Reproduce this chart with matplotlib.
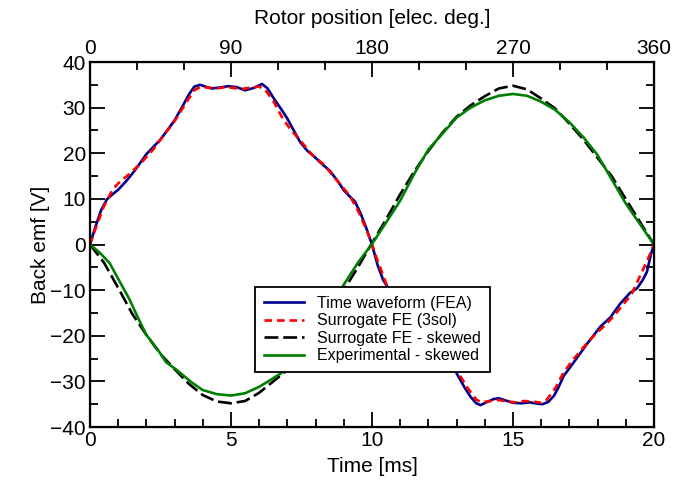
import matplotlib
matplotlib.use("Agg")
import matplotlib.pyplot as plt
from matplotlib.ticker import MultipleLocator

plt.rcParams['font.family'] = ['Liberation Sans', 'DejaVu Sans']
plt.rcParams['lines.scale_dashes'] = False

# ---- data ----
t_fea = [0.0, 0.2, 0.4, 0.6, 0.8, 1.0, 1.3, 1.6, 2.0, 2.5, 3.0, 3.3, 3.5, 3.7, 3.9,
         4.1, 4.3, 4.6, 4.9, 5.2, 5.5, 5.8, 6.1, 6.3, 6.5, 6.8, 7.0, 7.2, 7.45, 7.7, 7.95,
         8.2, 8.5, 8.8, 9.0, 9.2, 9.4, 9.6, 9.8, 10.0,
         10.2, 10.4, 10.6, 10.8, 11.0, 11.3, 11.6, 12.0, 12.5, 13.0, 13.3, 13.5, 13.7,
         13.85, 14.05, 14.3, 14.5, 14.7, 15.0, 15.3, 15.6, 15.9, 16.05, 16.25, 16.45,
         16.6, 16.8, 17.1, 17.6, 18.1, 18.45, 18.8, 19.15, 19.4, 19.6, 19.75, 19.9, 20.0]
v_fea = [0.0, 4.0, 7.6, 9.9, 11.0, 12.0, 14.0, 16.3, 19.8, 23.0, 27.2, 30.5, 32.8, 34.6, 35.0,
         34.6, 34.2, 34.4, 34.7, 34.5, 33.8, 34.3, 35.2, 34.2, 32.2, 29.5, 27.6, 25.3, 22.5, 20.6, 19.3,
         17.8, 16.2, 13.8, 11.9, 10.6, 9.4, 6.8, 3.6, 0.0,
         -4.5, -7.8, -9.8, -11.0, -12.0, -14.0, -16.3, -19.8, -23.5, -28.2, -31.5, -33.4, -34.8,
         -35.2, -34.6, -33.9, -33.7, -34.1, -34.7, -34.8, -34.6, -34.9, -35.0, -34.5, -33.2,
         -31.5, -28.8, -26.3, -22.0, -18.0, -16.0, -13.0, -10.6, -9.6, -7.8, -6.0, -2.0, 0.0]

t_sur = [0.0, 0.2, 0.5, 0.8, 1.0, 1.4, 1.8, 2.2, 2.6, 3.0, 3.4, 3.7, 3.9, 4.2, 4.5, 4.8,
         5.1, 5.4, 5.7, 6.0, 6.2, 6.5, 6.8, 7.1, 7.5, 7.9, 8.3, 8.6, 8.9, 9.2, 9.5, 9.8, 10.0,
         10.2, 10.5, 10.8, 11.0, 11.4, 11.8, 12.2, 12.6, 13.0, 13.4, 13.7, 13.9, 14.2, 14.5,
         14.8, 15.1, 15.4, 15.7, 16.0, 16.2, 16.5, 16.8, 17.1, 17.5, 17.9, 18.3, 18.6, 18.9,
         19.2, 19.5, 19.8, 20.0]
v_sur = [0.0, 3.5, 8.5, 12.0, 13.4, 15.5, 17.8, 20.5, 23.8, 27.0, 31.0, 33.8, 34.5, 34.4, 34.2, 34.5,
         34.3, 34.1, 34.4, 34.6, 34.0, 31.5, 28.0, 25.3, 22.5, 19.5, 17.5, 15.2, 13.0, 10.8, 7.5, 3.3, 0.0,
         -3.5, -8.5, -12.0, -13.4, -15.5, -17.8, -20.5, -23.8, -27.5, -31.5, -34.0, -34.6, -34.3, -34.1,
         -34.4, -34.6, -34.3, -34.4, -34.7, -34.0, -31.5, -28.0, -25.5, -22.5, -19.8, -17.5, -15.5, -13.2,
         -11.0, -7.0, -3.0, 0.0]

t_skew = [0.0, 0.5, 1.0, 1.5, 2.0, 2.5, 3.0, 3.5, 4.0, 4.5, 5.0, 5.5, 6.0, 6.5, 7.0, 7.5,
          8.0, 8.5, 9.0, 9.5, 10.0, 10.5, 11.0, 11.5, 12.0, 12.5, 13.0, 13.5, 14.0, 14.5,
          15.0, 15.5, 16.0, 16.5, 17.0, 17.5, 18.0, 18.5, 19.0, 19.5, 20.0]
v_skew = [0.0, -4.0, -9.5, -15.2, -19.8, -24.0, -27.3, -30.5, -33.0, -34.4, -34.8, -34.3, -32.5,
          -30.0, -27.5, -24.0, -20.0, -15.0, -10.0, -5.0, 0.3, 5.5, 11.0, 16.0, 20.5, 24.5, 28.0,
          30.5, 32.5, 34.2, 34.8, 34.0, 32.0, 29.8, 26.5, 23.0, 19.0, 15.0, 10.0, 5.0, 0.0]

t_exp = [0.0, 0.35, 0.7, 1.0, 1.4, 1.7, 2.0, 2.4, 2.7, 3.1, 3.6, 4.0, 4.5, 5.0, 5.5, 6.0,
         6.5, 7.0, 7.5, 8.0, 8.5, 9.0, 9.5, 10.0, 10.5, 11.0, 11.5, 12.0, 12.5, 13.0, 13.5,
         14.0, 14.5, 15.0, 15.5, 16.0, 16.5, 17.0, 17.5, 18.0, 18.5, 19.0, 19.5, 20.0]
v_exp = [0.0, -1.8, -4.1, -7.5, -12.0, -16.0, -19.8, -23.0, -25.8, -27.6, -30.2, -31.9, -32.8,
         -33.1, -32.6, -31.2, -29.3, -27.3, -23.5, -19.5, -14.0, -8.8, -4.0, 0.1, 4.8, 9.6, 15.5,
         20.8, 24.3, 27.8, 30.0, 31.6, 32.6, 33.0, 32.6, 31.3, 29.5, 26.8, 23.5, 19.6, 14.3, 9.0,
         4.5, 0.0]

labels = ['Time waveform (FEA)', 'Surrogate FE (3sol)', 'Surrogate FE - skewed',
          'Experimental - skewed']
x_ticks = [0, 5, 10, 15, 20]
y_ticks = [-40, -30, -20, -10, 0, 10, 20, 30, 40]
top_ticks = [0, 90, 180, 270, 360]

fig = plt.figure(figsize=(6.92, 4.91), dpi=100)
ax = fig.add_axes([0.130, 0.1303, 0.815, 0.7434])

lw = 1.9
ax.plot(t_fea, v_fea, color='#00008b', lw=lw, label=labels[0])
ax.plot(t_sur, v_sur, color='#ff0000', lw=lw, dashes=(5.5, 3.5), label=labels[1])
ax.plot(t_skew, v_skew, color='black', lw=lw, dashes=(10, 3.5), label=labels[2])
ax.plot(t_exp, v_exp, color='#008000', lw=lw, label=labels[3])

fs = 15
ax.set_xlim(0, 20)
ax.set_ylim(-40, 40)
ax.set_xticks(x_ticks)
ax.set_yticks(y_ticks)
ax.xaxis.set_minor_locator(MultipleLocator(1))
ax.yaxis.set_minor_locator(MultipleLocator(5))
ax.tick_params(which='both', direction='in', width=1.3, labelsize=fs, pad=3)
ax.tick_params(which='major', length=10.5)
ax.tick_params(which='minor', length=6)
ax.tick_params(axis='y', which='both', right=True)
for s in ax.spines.values():
    s.set_linewidth(1.6)

ax.set_xlabel('Time [ms]', fontsize=fs, labelpad=5)
ax.set_ylabel('Back emf [V]', fontsize=fs, labelpad=0)

ax2 = ax.twiny()
ax2.set_xlim(0, 360)
ax2.set_xticks(top_ticks)
ax2.xaxis.set_minor_locator(MultipleLocator(30))
ax2.tick_params(which='both', direction='in', width=1.3, labelsize=fs, pad=3)
ax2.tick_params(which='major', length=10.5)
ax2.tick_params(which='minor', length=6)
ax2.set_xlabel('Rotor position [elec. deg.]', fontsize=fs, labelpad=11)

leg = ax.legend(loc='lower left', bbox_to_anchor=(0.2926, 0.151), fontsize=11.5,
                frameon=True, fancybox=False, edgecolor='black', framealpha=1,
                handlelength=2.5, handletextpad=0.85, labelspacing=0.15,
                borderpad=0.55, borderaxespad=0)
leg.get_frame().set_linewidth(1.3)

fig.savefig('out.png', dpi=100)
